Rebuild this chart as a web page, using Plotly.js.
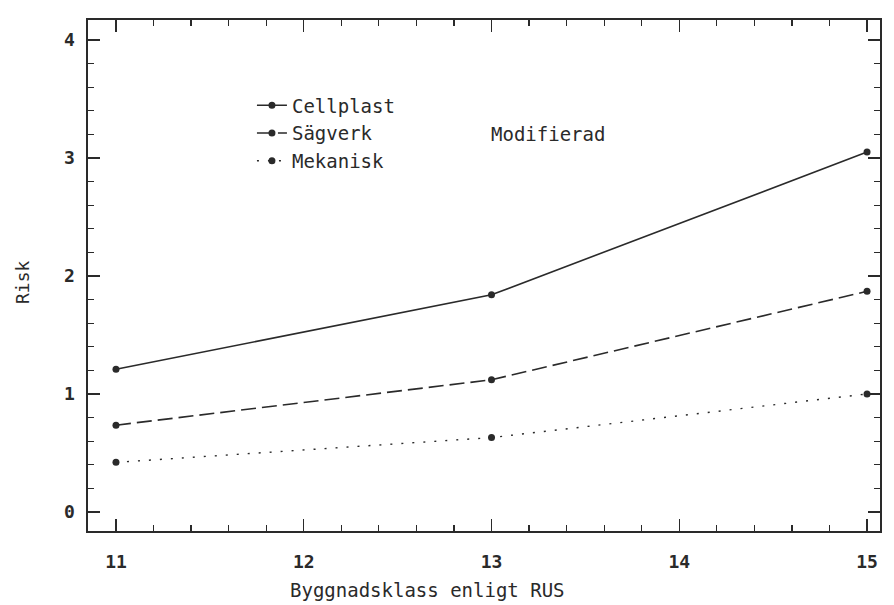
<!DOCTYPE html>
<html>
<head>
<meta charset="utf-8">
<script src="https://cdn.plot.ly/plotly-3.0.1.min.js"></script>
<style>html,body{margin:0;padding:0;background:#fff;}#chart{width:894px;height:605px;}</style>
</head>
<body>
<div id="chart"></div>
<script>
const classes = [11, 13, 15];
const cellplast = [1.21, 1.84, 3.05];
const sagverk = [0.735, 1.12, 1.87];
const mekanisk = [0.42, 0.63, 1.0];
const xTicks = [11, 12, 13, 14, 15];
const yTicks = [0, 1, 2, 3, 4];

const ink = '#2a2a2a';
const fontFam = '"DejaVu Sans Mono", "Liberation Mono", monospace';

const traces = [
  {x: classes, y: cellplast, name: 'Cellplast', legendgroup: 'a', mode: 'lines+markers',
   line: {color: ink, width: 1.6, dash: 'solid'}, marker: {color: ink, size: 7}},
  {x: classes, y: sagverk, name: 'Sägverk', legendgroup: 'b', mode: 'lines+markers',
   line: {color: ink, width: 1.6, dash: '15px,6px'}, marker: {color: ink, size: 7}},
  {x: classes, y: mekanisk, name: 'Mekanisk', legendgroup: 'c', mode: 'lines+markers',
   line: {color: ink, width: 1.4, dash: '2px,9px'}, marker: {color: ink, size: 7}}
];

const axisCommon = {
  showgrid: false, zeroline: false, showline: true, linecolor: ink, linewidth: 1.6,
  mirror: 'allticks', ticks: 'inside', ticklen: 12, tickwidth: 1.4, tickcolor: ink,
  tickfont: {family: fontFam, size: 18, color: ink, weight: 'bold'},
  minor: {ticks: 'inside', ticklen: 6, tickwidth: 1.2, tickcolor: ink, dtick: 0.2}
};

const layout = {
  width: 894, height: 605,
  margin: {l: 88, r: 14, t: 20, b: 74},
  paper_bgcolor: '#fff', plot_bgcolor: '#fff',
  font: {family: fontFam, color: ink},
  showlegend: true,
  legend: {x: 0.207, y: 0.87, xanchor: 'left', yanchor: 'top', bgcolor: 'rgba(0,0,0,0)',
           font: {family: fontFam, size: 19, color: ink}, traceorder: 'grouped', tracegroupgap: 0,
           itemwidth: 30},
  xaxis: Object.assign({}, axisCommon, {
    range: [10.851, 15.069], tickvals: xTicks, ticktext: xTicks.map(String), ticklabelstandoff: 14
  }),
  yaxis: Object.assign({}, axisCommon, {
    range: [-0.162, 4.17], tickvals: yTicks, ticktext: yTicks.map(String), ticklabelstandoff: 8
  }),
  annotations: [
    {text: 'Modifierad', xref: 'paper', yref: 'paper', x: (548 - 88) / 792, y: (531 - 134) / 511,
     xanchor: 'center', yanchor: 'middle',
     showarrow: false, font: {family: fontFam, size: 19, color: ink}},
    {text: 'Byggnadsklass enligt RUS', xref: 'paper', yref: 'paper', x: (427 - 88) / 792, y: (531 - 590) / 511,
     xanchor: 'center', yanchor: 'middle',
     showarrow: false, font: {family: fontFam, size: 19, color: ink}},
    {text: 'Risk', xref: 'paper', yref: 'paper', x: (22 - 88) / 792, y: (531 - 282) / 511,
     xanchor: 'center', yanchor: 'middle',
     textangle: -90, showarrow: false, font: {family: fontFam, size: 18, color: ink}}
  ]
};

Plotly.newPlot('chart', traces, layout, {staticPlot: true, displayModeBar: false});
</script>
</body>
</html>
